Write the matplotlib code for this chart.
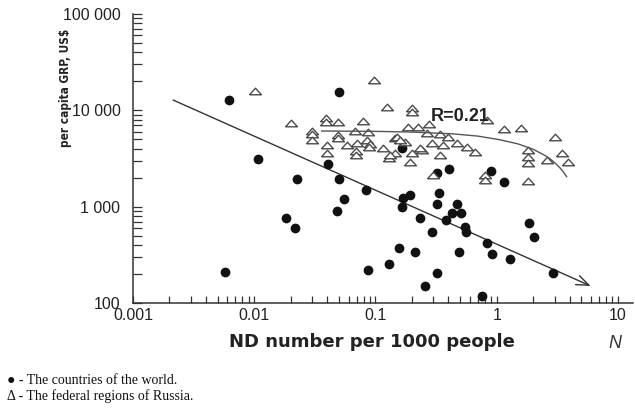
import matplotlib
matplotlib.use('Agg')
import matplotlib.pyplot as plt
from matplotlib.ticker import FixedLocator, NullFormatter

# ---- data ----
country_nd = [0.0062, 0.0107, 0.0225, 0.0057, 0.0183, 0.0217, 0.0406, 0.050, 0.048, 0.055,
              0.084, 0.087, 0.129, 0.156, 0.166, 0.169, 0.193, 0.212, 0.233, 0.256,
              0.292, 0.321, 0.321, 0.334, 0.321, 0.404, 0.381, 0.428, 0.470, 0.507,
              0.489, 0.547, 0.557, 0.755, 0.832, 0.914, 0.898, 1.148, 1.286, 1.845,
              2.028, 2.911, 0.050, 0.166]
country_grp = [12800, 3130, 1940, 210, 760, 600, 2780, 1940, 900, 1200,
               1490, 220, 254, 372, 990, 1230, 1320, 339, 760, 150,
               546, 205, 1067, 1390, 2240, 2460, 728, 860, 1067, 860,
               339, 615, 546, 118, 420, 323, 2350, 1805, 286, 677,
               485, 205, 15500, 4070]

region_nd = [0.0101, 0.0201, 0.0299, 0.0299, 0.0299, 0.0391, 0.0391, 0.0491, 0.0789, 0.0491,
             0.0491, 0.0398, 0.0398, 0.0582, 0.0678, 0.0703, 0.069, 0.069, 0.0867, 0.0851,
             0.0902, 0.0883, 0.1153, 0.129, 0.145, 0.145, 0.0973, 0.1245, 0.200, 0.200,
             0.185, 0.224, 0.276, 0.832, 1.148, 1.585, 0.150, 0.175, 0.266, 0.340,
             0.396, 0.292, 0.361, 0.470, 0.569, 0.662, 0.200, 0.242, 0.340, 0.193,
             0.298, 0.800, 0.800, 1.811, 1.811, 1.811, 1.811, 2.594, 3.02, 3.45,
             3.87, 0.132, 0.233, 0.159]
region_grp = [15900, 7400, 6110, 5690, 4930, 8340, 7580, 7580, 7760, 5560,
              5170, 4370, 3610, 4370, 6110, 4590, 3790, 3440, 5970, 4930,
              4480, 4170, 4070, 3200, 3610, 5170, 20700, 10840, 10590, 9620,
              6730, 6730, 7220, 7950, 6410, 6560, 5290, 4700, 5820, 5690,
              5290, 4590, 4370, 4590, 4170, 3700, 3610, 3880, 3440, 2910,
              2130, 2130, 1890, 3880, 3280, 2840, 1850, 3050, 5290, 3610,
              2910, 3440, 4070, 4930]

fit_nd = [0.00214, 5.96]
fit_grp = [12800, 150]

curve_nd = [0.036, 0.1, 0.2, 0.435, 0.7, 1.06, 1.5, 2.0, 2.5, 2.75, 3.0, 3.3, 3.5, 3.77]
curve_grp = [6100, 6050, 5950, 5700, 5400, 4950, 4480, 3940, 3400, 3140, 2870, 2550, 2340, 2050]

x_ticks = [0.001, 0.01, 0.1, 1, 10]
x_tick_labels = ['0.001', '0.01', '0.1', '1', '10']
y_ticks = [100, 1000, 10000, 100000]
y_tick_labels = ['100', '1 000', '10 000', '100 000']

# ---- figure ----
W, H = 635, 408
fig = plt.figure(figsize=(W / 100, H / 100), dpi=100)
ax = fig.add_axes([133 / W, 105 / H, 500 / W, 289 / H])
ax.set_xscale('log')
ax.set_yscale('log')
ax.set_xlim(0.001, 13.3)
ax.set_ylim(100, 100000)

for s in ['top', 'right']:
    ax.spines[s].set_visible(False)
for s in ['left', 'bottom']:
    ax.spines[s].set_color('#333333')
    ax.spines[s].set_linewidth(1.1)

ax.xaxis.set_major_locator(FixedLocator(x_ticks))
ax.set_xticklabels(x_tick_labels)
ax.yaxis.set_major_locator(FixedLocator(y_ticks))
ax.set_yticklabels(y_tick_labels)
xminor = [m * d for d in [0.001, 0.01, 0.1, 1] for m in range(2, 10)]
yminor = [m * d for d in [100, 1000, 10000] for m in range(2, 10)]
ax.xaxis.set_minor_locator(FixedLocator(xminor))
ax.yaxis.set_minor_locator(FixedLocator(yminor))
ax.xaxis.set_minor_formatter(NullFormatter())
ax.yaxis.set_minor_formatter(NullFormatter())

tickfont = ['Liberation Sans', 'DejaVu Sans']
ax.tick_params(axis='x', which='both', direction='in', length=5, width=0.9,
               color='#333333', pad=3.5, labelsize=11.5, labelcolor='#222222')
ax.tick_params(axis='y', which='both', direction='in', length=6.5, width=0.9,
               color='#333333', pad=9, labelsize=11.5, labelcolor='#222222')
for lab in ax.get_xticklabels() + ax.get_yticklabels():
    lab.set_family(tickfont)

# data marks
ax.plot(country_nd, country_grp, linestyle='none', marker='o', markersize=6.0,
        markerfacecolor='#111111', markeredgecolor='#111111', zorder=3)
tri = [(-1, -0.55), (1, -0.55), (0, 0.55), (-1, -0.55)]
ax.plot(region_nd, region_grp, linestyle='none', marker=tri, markersize=8.6,
        markerfacecolor='white', markeredgecolor='#4a4a4a', markeredgewidth=1.0,
        zorder=4)

# regression line with arrow
ax.annotate('', xy=(fit_nd[1], fit_grp[1]), xytext=(fit_nd[0], fit_grp[0]),
            arrowprops=dict(arrowstyle='->,head_length=0.9,head_width=0.35',
                            color='#333333', lw=1.0, shrinkA=0, shrinkB=0),
            zorder=2)
# curve for Russian regions
ax.plot(curve_nd, curve_grp, color='#555555', lw=1.0, zorder=5)
ax.text(0.498, 8610, 'R=0.21', ha='center', va='center', fontsize=13,
        fontweight='bold', family=tickfont, color='#222222', zorder=6)

# labels
fig.text(65 / W, 1 - 88 / H, 'per capita GRP, US$', rotation=90, ha='center',
         va='center', fontsize=8.5, fontweight='bold', fontstretch='condensed',
         family=['DejaVu Sans'], color='#222222')
fig.text(372 / W, 1 - 342 / H, 'ND number per 1000 people', ha='center', va='center',
         fontsize=13, fontweight='bold', family=['DejaVu Sans'], color='#222222')
fig.text(615 / W, 1 - 344 / H, 'N', ha='center', va='center', fontsize=13,
         style='italic', family=tickfont, color='#333333')
legfont = ['Liberation Serif', 'DejaVu Serif']
fig.text(7 / W, 1 - 380 / H, '\u25cf - The countries of the world.', ha='left',
         va='center', fontsize=10, family=legfont, color='#111111')
fig.text(7 / W, 1 - 396 / H, '\u0394 - The federal regions of Russia.', ha='left',
         va='center', fontsize=10, family=legfont, color='#111111')

fig.savefig('out.png', dpi=100, facecolor='white')
